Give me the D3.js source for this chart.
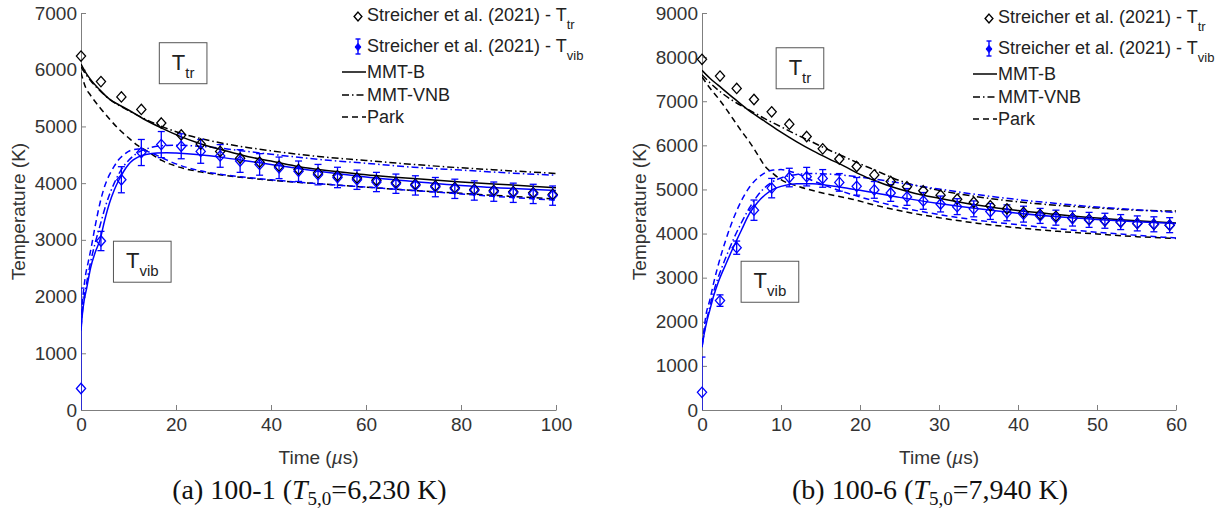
<!DOCTYPE html>
<html><head><meta charset="utf-8">
<script src="https://cdn.jsdelivr.net/npm/d3@7"></script>
<style>
body{margin:0;background:#fff;}
svg text{font-family:"Liberation Sans",Arial,Helvetica,sans-serif;}
</style></head><body>
<svg id="chart" width="1218" height="513"></svg>
<script>
// ---------------- Panel (a) 100-1 ----------------
const xTicksA = [0, 20, 40, 60, 80, 100];
const yTicksA = [0, 1000, 2000, 3000, 4000, 5000, 6000, 7000];
const tDataA = [0, 4.2, 8.5, 12.7, 16.9, 21.1, 25.2, 29.3, 33.5, 37.6, 41.7, 45.8, 49.9, 54.0, 58.1, 62.2, 66.3, 70.4, 74.6, 78.7, 82.8, 86.9, 91.0, 95.2, 99.3];
const ttrDataA = [6240, 5790, 5520, 5300, 5060, 4850, 4690, 4560, 4440, 4370, 4300, 4240, 4180, 4130, 4090, 4050, 4010, 3980, 3950, 3920, 3890, 3870, 3850, 3830, 3800];
const tvibDataA = [380, 2980, 4060, 4540, 4680, 4650, 4560, 4480, 4390, 4330, 4270, 4210, 4150, 4100, 4060, 4020, 3990, 3960, 3930, 3900, 3870, 3850, 3830, 3810, 3780];
const tvibErrA = [1770, 170, 230, 230, 230, 220, 210, 200, 200, 190, 190, 180, 180, 180, 170, 170, 170, 170, 170, 170, 170, 170, 170, 170, 170];

const mmtbTtrA_t = [0, 1, 2, 4, 6, 8, 10, 13, 17, 21, 25, 30, 35, 40, 46, 50, 60, 70, 80, 90, 100];
const mmtbTtrA_T = [6100, 5950, 5830, 5640, 5480, 5380, 5290, 5140, 4970, 4820, 4700, 4580, 4470, 4390, 4290, 4240, 4150, 4080, 4020, 3970, 3920];
const mmtbTvibA_t = [0, 0.3, 0.7, 1.2, 2, 3, 4, 5, 6, 7, 8, 9, 10, 11, 12, 14, 16, 18, 20, 25, 30, 35, 40, 50, 60, 70, 80, 90, 100];
const mmtbTvibA_T = [1400, 1700, 1950, 2150, 2500, 2780, 3000, 3350, 3650, 3880, 4060, 4210, 4330, 4410, 4460, 4510, 4530, 4535, 4530, 4500, 4450, 4390, 4330, 4210, 4110, 4030, 3960, 3910, 3870];
const vnbTtrA_t = [0, 1, 2, 4, 6, 8, 10, 13, 17, 21, 25, 30, 35, 40, 50, 60, 70, 80, 90, 100];
const vnbTtrA_T = [6050, 5920, 5810, 5630, 5480, 5370, 5280, 5150, 5000, 4880, 4790, 4700, 4630, 4570, 4470, 4400, 4330, 4270, 4220, 4170];
const vnbTvibA_t = [0, 0.5, 1, 2, 3, 4, 5, 6, 7, 8, 9, 10, 12, 14, 17, 20, 25, 30, 35, 40, 50, 60, 70, 80, 90, 100];
const vnbTvibA_T = [1450, 1900, 2150, 2600, 2950, 3250, 3550, 3800, 4000, 4170, 4300, 4400, 4540, 4610, 4660, 4670, 4650, 4610, 4560, 4510, 4420, 4350, 4280, 4230, 4180, 4140];
const parkTtrA_t = [0, 0.5, 1, 2, 4, 6, 8, 10, 12, 14, 16, 17, 20, 25, 30, 40, 50, 60, 70, 80, 90, 100];
const parkTtrA_T = [5950, 5800, 5680, 5550, 5330, 5130, 4950, 4800, 4660, 4560, 4450, 4400, 4300, 4200, 4140, 4050, 3990, 3930, 3870, 3820, 3770, 3720];
const parkTvibA_t = [0, 0.3, 0.6, 1, 1.5, 2, 3, 4, 5, 6, 7, 8, 9, 10, 11, 12, 13, 14, 16, 18, 20, 25, 30, 40, 50, 60, 70, 80, 90, 100];
const parkTvibA_T = [1500, 1900, 2150, 2400, 2600, 2800, 3250, 3650, 3950, 4150, 4300, 4420, 4500, 4560, 4590, 4600, 4590, 4560, 4490, 4410, 4340, 4220, 4150, 4060, 3990, 3930, 3870, 3810, 3750, 3700];

// ---------------- Panel (b) 100-6 ----------------
const xTicksB = [0, 10, 20, 30, 40, 50, 60];
const yTicksB = [0, 1000, 2000, 3000, 4000, 5000, 6000, 7000, 8000, 9000];
const tDataB = [0, 2.28, 4.39, 6.58, 8.82, 11.05, 13.25, 15.28, 17.38, 19.58, 21.81, 23.89, 25.95, 28.01, 30.2, 32.3, 34.4, 36.5, 38.6, 40.7, 42.8, 44.8, 46.9, 49.0, 51.0, 53.0, 55.1, 57.2, 59.2];
const ttrDataB = [7950, 7570, 7290, 7040, 6760, 6480, 6200, 5920, 5690, 5520, 5330, 5180, 5060, 4970, 4870, 4780, 4710, 4630, 4560, 4480, 4430, 4390, 4350, 4320, 4290, 4260, 4230, 4210, 4190];
const tvibDataB = [400, 2480, 3680, 4530, 5030, 5270, 5290, 5250, 5160, 5070, 4990, 4920, 4830, 4740, 4670, 4610, 4560, 4500, 4470, 4440, 4400, 4360, 4340, 4310, 4290, 4260, 4230, 4210, 4190];
const tvibErrB = [800, 130, 150, 230, 220, 210, 210, 200, 200, 200, 190, 190, 190, 190, 180, 180, 180, 180, 180, 180, 170, 170, 170, 170, 170, 170, 170, 170, 170];

const mmtbTtrB_t = [0, 1, 2, 4, 6, 8, 10, 12, 14, 16, 18, 20, 22, 24, 27, 30, 35, 40, 45, 50, 55, 60];
const mmtbTtrB_T = [7700, 7520, 7370, 7070, 6780, 6540, 6300, 6080, 5880, 5700, 5530, 5340, 5190, 5060, 4910, 4800, 4640, 4520, 4430, 4350, 4290, 4240];
const mmtbTvibB_t = [0, 0.3, 0.6, 1, 1.5, 2, 3, 4, 5, 6, 7, 8, 9, 10, 12, 14, 16, 18, 20, 22, 25, 30, 35, 40, 45, 50, 55, 60];
const mmtbTvibB_T = [1430, 1750, 2000, 2270, 2600, 2870, 3300, 3700, 4080, 4450, 4700, 4880, 5000, 5070, 5130, 5130, 5090, 5040, 4980, 4920, 4820, 4680, 4560, 4460, 4380, 4320, 4270, 4230];
const vnbTtrB_t = [0, 1, 2, 4, 6, 8, 10, 12, 14, 16, 18, 20, 22, 25, 30, 35, 40, 45, 50, 55, 60];
const vnbTtrB_T = [7600, 7420, 7260, 7000, 6800, 6600, 6420, 6240, 6070, 5900, 5740, 5580, 5430, 5200, 4980, 4830, 4720, 4640, 4580, 4530, 4510];
const vnbTvibB_t = [0, 0.3, 0.6, 1, 1.5, 2, 3, 4, 5, 6, 7, 8, 9, 10, 12, 14, 16, 18, 20, 22, 25, 30, 35, 40, 45, 50, 55, 60];
const vnbTvibB_T = [1420, 1780, 2050, 2350, 2700, 2980, 3450, 3880, 4250, 4580, 4850, 5050, 5180, 5260, 5340, 5360, 5350, 5320, 5280, 5230, 5150, 5010, 4880, 4770, 4680, 4600, 4540, 4480];
const parkTtrB_t = [0, 1, 2, 3, 4, 5, 6, 7, 8, 9, 10, 12, 15, 19, 22, 27, 30, 35, 40, 45, 50, 55, 60];
const parkTtrB_T = [7550, 7300, 7080, 6840, 6580, 6320, 6080, 5800, 5520, 5360, 5220, 5080, 4930, 4780, 4640, 4450, 4360, 4230, 4130, 4050, 3990, 3930, 3890];
const parkTvibB_t = [0, 0.2, 0.5, 1, 1.5, 2, 3, 4, 5, 6, 7, 8, 9, 10, 11, 12, 14, 17, 20, 25, 30, 35, 40, 45, 50, 55, 60];
const parkTvibB_T = [1500, 1750, 2150, 2500, 2900, 3250, 3850, 4350, 4750, 5050, 5250, 5380, 5440, 5450, 5420, 5360, 5200, 5000, 4830, 4600, 4430, 4300, 4200, 4110, 4030, 3960, 3900];

const seriesNames = ["Streicher et al. (2021) - T", "Streicher et al. (2021) - T", "MMT-B", "MMT-VNB", "Park"];

// ---------------- drawing ----------------
const svg = d3.select("#chart");
const BLUE = "#0000ff", BLACK = "#000000";
const AXIS_LINE = "#7f7f7f", AXIS_TEXT = "#333333";
const DASH = {solid: null, dashdot: "7,3,1.5,3", dashed: "6,4"};

function zip(ts, vs) { return ts.map((t, i) => ({t: t, v: vs[i]})); }
const diamond = "M0,-5.2L4.6,0L0,5.2L-4.6,0Z";

function panel(cfg) {
  const x = d3.scaleLinear().domain(cfg.xDomain).range(cfg.xRange);
  const y = d3.scaleLinear().domain(cfg.yDomain).range(cfg.yRange);
  const g = svg.append("g");

  const clipId = "clip" + cfg.id;
  svg.append("clipPath").attr("id", clipId).append("rect")
    .attr("x", cfg.xRange[0]).attr("y", cfg.yRange[1])
    .attr("width", cfg.xRange[1] - cfg.xRange[0]).attr("height", cfg.yRange[0] - cfg.yRange[1]);

  // axes
  const ax = g.append("g").attr("transform", `translate(0,${cfg.yRange[0]})`)
    .call(d3.axisBottom(x).tickValues(cfg.xTicks).tickSizeInner(-5).tickSizeOuter(0).tickPadding(8));
  const ay = g.append("g").attr("transform", `translate(${cfg.xRange[0]},0)`)
    .call(d3.axisLeft(y).tickValues(cfg.yTicks).tickSizeInner(-5).tickSizeOuter(0).tickPadding(4).tickFormat(d3.format("d")));
  [ax, ay].forEach(a => {
    a.selectAll("path.domain").attr("stroke", AXIS_LINE).attr("stroke-width", 1);
    a.selectAll(".tick line").attr("stroke", AXIS_LINE).attr("stroke-width", 1);
    a.selectAll(".tick text").attr("fill", AXIS_TEXT).style("font-size", "19px")
      .style("font-family", '"Liberation Sans", Arial, sans-serif');
  });

  // axis labels
  g.append("text").attr("x", (cfg.xRange[0] + cfg.xRange[1]) / 2).attr("y", 457)
    .attr("text-anchor", "middle").attr("dominant-baseline", "central")
    .attr("fill", AXIS_TEXT).style("font-size", "19px")
    .call(t => { t.append("tspan").text("Time ("); t.append("tspan").attr("font-style", "italic").text("\u00b5"); t.append("tspan").text("s)"); });
  g.append("text").attr("transform", `translate(${cfg.xRange[0] - 62.5},${(cfg.yRange[0] + cfg.yRange[1]) / 2}) rotate(-90)`)
    .attr("text-anchor", "middle").attr("dominant-baseline", "central")
    .attr("fill", AXIS_TEXT).style("font-size", "19px").text("Temperature (K)");

  // model lines
  const line = d3.line().x(d => x(d.t)).y(d => y(d.v)).curve(d3.curveMonotoneX);
  const lg = g.append("g").attr("clip-path", `url(#${clipId})`);
  cfg.models.forEach(m => {
    lg.append("path").datum(zip(m.t, m.v)).attr("d", line)
      .attr("fill", "none").attr("stroke", m.color).attr("stroke-width", 1.5)
      .attr("stroke-dasharray", DASH[m.style]);
  });

  // error bars (clipped)
  const eg = g.append("g").attr("clip-path", `url(#${clipId})`);
  const pts = cfg.tData.map((t, i) => ({t: t, ttr: cfg.ttr[i], tv: cfg.tvib[i], e: cfg.err[i]}));
  pts.forEach(p => {
    const xx = x(p.t), y1 = y(p.tv - p.e), y2 = y(p.tv + p.e);
    eg.append("line").attr("x1", xx).attr("x2", xx).attr("y1", y1).attr("y2", y2)
      .attr("stroke", BLUE).attr("stroke-width", 1.3);
    [y1, y2].forEach(yy => eg.append("line").attr("x1", xx - 3.5).attr("x2", xx + 3.5)
      .attr("y1", yy).attr("y2", yy).attr("stroke", BLUE).attr("stroke-width", 1.3));
  });
  // markers
  g.append("g").selectAll("path").data(pts).join("path")
    .attr("d", diamond).attr("transform", d => `translate(${x(d.t)},${y(d.ttr)})`)
    .attr("fill", "none").attr("stroke", BLACK).attr("stroke-width", 1.3);
  g.append("g").selectAll("path").data(pts).join("path")
    .attr("d", diamond).attr("transform", d => `translate(${x(d.t)},${y(d.tv)})`)
    .attr("fill", "none").attr("stroke", BLUE).attr("stroke-width", 1.3);

  // annotation boxes
  cfg.boxes.forEach(b => {
    const bg = g.append("g");
    const txt = bg.append("text").attr("x", x(b.t)).attr("y", y(b.v))
      .attr("text-anchor", "middle").attr("fill", "#222").style("font-size", "22px");
    txt.append("tspan").text("T");
    txt.append("tspan").attr("dy", 8).style("font-size", "15px").text(b.sub);
    const bb = txt.node().getBBox();
    const cx = x(b.t), cy = y(b.v);
    const w = bb.width + 25, h = 41;
    bg.insert("rect", "text").attr("x", cx - w / 2).attr("y", cy - 27).attr("width", w).attr("height", h)
      .attr("fill", "#fff").attr("stroke", "#555").attr("stroke-width", 1);
  });

  // legend
  const L = g.append("g").attr("transform", `translate(${cfg.legX},${cfg.legY})`);
  const rows = [
    {type: "ttr", y: 0, sub: "tr"},
    {type: "tvib", y: 31, sub: "vib"},
    {type: "line", y: 57, style: "solid"},
    {type: "line", y: 80, style: "dashdot"},
    {type: "line", y: 102, style: "dashed"}
  ];
  rows.forEach((r, i) => {
    if (r.type === "ttr") {
      L.append("path").attr("d", "M0,-4.4L3.9,0L0,4.4L-3.9,0Z").attr("transform", `translate(-8,${r.y + 1.5})`)
        .attr("fill", "none").attr("stroke", BLACK).attr("stroke-width", 1.4);
    } else if (r.type === "tvib") {
      const lx = -8;
      L.append("line").attr("x1", lx).attr("x2", lx).attr("y1", r.y - 7).attr("y2", r.y + 8).attr("stroke", BLUE).attr("stroke-width", 1.4);
      [r.y - 7, r.y + 8].forEach(yy => L.append("line").attr("x1", lx - 2.5).attr("x2", lx + 2.5).attr("y1", yy).attr("y2", yy).attr("stroke", BLUE).attr("stroke-width", 1.4));
      L.append("path").attr("d", "M0,-3.6L3,0L0,3.6L-3,0Z").attr("transform", `translate(${lx},${r.y + 1})`)
        .attr("fill", BLUE).attr("stroke", BLUE).attr("stroke-width", 1);
    } else {
      L.append("line").attr("x1", -24).attr("x2", 0).attr("y1", r.y).attr("y2", r.y)
        .attr("stroke", BLACK).attr("stroke-width", 1.5).attr("stroke-dasharray", DASH[r.style]);
    }
    const t = L.append("text").attr("x", 1).attr("y", r.y).attr("dy", "0.36em")
      .attr("fill", "#222").style("font-size", "18px");
    t.append("tspan").text(seriesNames[i]);
    if (r.sub) t.append("tspan").attr("dy", 8).style("font-size", "13px").text(r.sub);
  });

  // caption
  const cap = g.append("text").attr("x", (cfg.xRange[0] + cfg.xRange[1]) / 2 - 9).attr("y", 499)
    .attr("text-anchor", "middle").attr("fill", "#111")
    .style("font-family", '"Liberation Serif", "Times New Roman", serif').style("font-size", "28px");
  cap.append("tspan").text(cfg.capPre);
  cap.append("tspan").attr("font-style", "italic").text("T");
  cap.append("tspan").attr("dy", 6).style("font-size", "19px").text("5,0");
  cap.append("tspan").attr("dy", -6).text(cfg.capPost);
}

panel({
  id: "A", xDomain: [0, 100], yDomain: [0, 7000], xRange: [81, 556], yRange: [410, 13],
  xTicks: xTicksA, yTicks: yTicksA,
  tData: tDataA, ttr: ttrDataA, tvib: tvibDataA, err: tvibErrA,
  models: [
    {t: parkTtrA_t, v: parkTtrA_T, color: BLACK, style: "dashed"},
    {t: parkTvibA_t, v: parkTvibA_T, color: BLUE, style: "dashed"},
    {t: vnbTtrA_t, v: vnbTtrA_T, color: BLACK, style: "dashdot"},
    {t: vnbTvibA_t, v: vnbTvibA_T, color: BLUE, style: "dashdot"},
    {t: mmtbTtrA_t, v: mmtbTtrA_T, color: BLACK, style: "solid"},
    {t: mmtbTvibA_t, v: mmtbTvibA_T, color: BLUE, style: "solid"}
  ],
  boxes: [{t: 21.5, v: 6000, sub: "tr"}, {t: 12.9, v: 2500, sub: "vib"}],
  legX: 366, legY: 15,
  capPre: "(a) 100-1 (", capPost: "=6,230 K)"
});

panel({
  id: "B", xDomain: [0, 60], yDomain: [0, 9000], xRange: [702, 1176], yRange: [410, 13],
  xTicks: xTicksB, yTicks: yTicksB,
  tData: tDataB, ttr: ttrDataB, tvib: tvibDataB, err: tvibErrB,
  models: [
    {t: parkTtrB_t, v: parkTtrB_T, color: BLACK, style: "dashed"},
    {t: parkTvibB_t, v: parkTvibB_T, color: BLUE, style: "dashed"},
    {t: vnbTtrB_t, v: vnbTtrB_T, color: BLACK, style: "dashdot"},
    {t: vnbTvibB_t, v: vnbTvibB_T, color: BLUE, style: "dashdot"},
    {t: mmtbTtrB_t, v: mmtbTtrB_T, color: BLACK, style: "solid"},
    {t: mmtbTvibB_t, v: mmtbTvibB_T, color: BLUE, style: "solid"}
  ],
  boxes: [{t: 12.4, v: 7600, sub: "tr"}, {t: 8.6, v: 2760, sub: "vib"}],
  legX: 997, legY: 17,
  capPre: "(b) 100-6 (", capPost: "=7,940 K)"
});
</script>
</body></html>
